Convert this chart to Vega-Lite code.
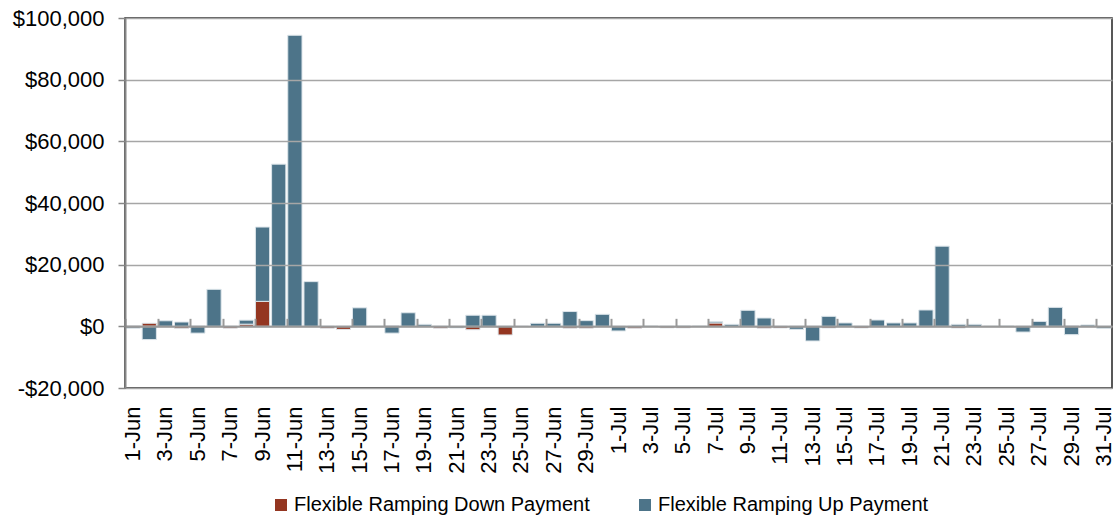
{
  "$schema": "https://vega.github.io/schema/vega-lite/v6.json",
  "autosize": {"type": "none"},
  "width": 987,
  "height": 370,
  "padding": {"left": 125, "top": 18, "right": 8, "bottom": 130},
  "background": "white",
  "view": {"stroke": "#222222", "strokeWidth": 1.5},
  "config": {"font": "Liberation Sans"},
  "data": {"values": [
    {"d": "1-Jun", "down": 200, "up": -600},
    {"d": "2-Jun", "down": 1000, "up": -4300},
    {"d": "3-Jun", "down": 0, "up": 1800},
    {"d": "4-Jun", "down": -650, "up": 1400},
    {"d": "5-Jun", "down": 100, "up": -2200},
    {"d": "6-Jun", "down": 0, "up": 12000},
    {"d": "7-Jun", "down": -600, "up": 0},
    {"d": "8-Jun", "down": 700, "up": 1300},
    {"d": "9-Jun", "down": 8100, "up": 24100},
    {"d": "10-Jun", "down": 0, "up": 52600},
    {"d": "11-Jun", "down": 0, "up": 94400},
    {"d": "12-Jun", "down": 0, "up": 14500},
    {"d": "13-Jun", "down": -600, "up": 0},
    {"d": "14-Jun", "down": -1000, "up": 0},
    {"d": "15-Jun", "down": 0, "up": 6000},
    {"d": "16-Jun", "down": 0, "up": 0},
    {"d": "17-Jun", "down": 150, "up": -2200},
    {"d": "18-Jun", "down": 0, "up": 4400},
    {"d": "19-Jun", "down": 0, "up": 650},
    {"d": "20-Jun", "down": -600, "up": 0},
    {"d": "21-Jun", "down": 0, "up": -500},
    {"d": "22-Jun", "down": -1100, "up": 3600},
    {"d": "23-Jun", "down": 0, "up": 3600},
    {"d": "24-Jun", "down": -2800, "up": 0},
    {"d": "25-Jun", "down": -100, "up": 0},
    {"d": "26-Jun", "down": 0, "up": 1000},
    {"d": "27-Jun", "down": 0, "up": 1000},
    {"d": "28-Jun", "down": -600, "up": 4800},
    {"d": "29-Jun", "down": -600, "up": 1850},
    {"d": "30-Jun", "down": 0, "up": 3900},
    {"d": "1-Jul", "down": 0, "up": -1500},
    {"d": "2-Jul", "down": -600, "up": 0},
    {"d": "3-Jul", "down": 0, "up": 100},
    {"d": "4-Jul", "down": -500, "up": 0},
    {"d": "5-Jul", "down": -500, "up": 150},
    {"d": "6-Jul", "down": 0, "up": 100},
    {"d": "7-Jul", "down": 1100, "up": 400},
    {"d": "8-Jul", "down": 0, "up": 650},
    {"d": "9-Jul", "down": 0, "up": 5200},
    {"d": "10-Jul", "down": -600, "up": 2700},
    {"d": "11-Jul", "down": -550, "up": 0},
    {"d": "12-Jul", "down": 0, "up": -970},
    {"d": "13-Jul", "down": 0, "up": -4750},
    {"d": "14-Jul", "down": -550, "up": 3240},
    {"d": "15-Jul", "down": 0, "up": 1100},
    {"d": "16-Jul", "down": -550, "up": 0},
    {"d": "17-Jul", "down": 0, "up": 2050},
    {"d": "18-Jul", "down": 0, "up": 1100},
    {"d": "19-Jul", "down": 0, "up": 1100},
    {"d": "20-Jul", "down": 0, "up": 5300},
    {"d": "21-Jul", "down": 0, "up": 26000},
    {"d": "22-Jul", "down": -550, "up": 650},
    {"d": "23-Jul", "down": 0, "up": 650},
    {"d": "24-Jul", "down": 0, "up": 0},
    {"d": "25-Jul", "down": 0, "up": 100},
    {"d": "26-Jul", "down": 0, "up": -1850},
    {"d": "27-Jul", "down": 0, "up": 1600},
    {"d": "28-Jul", "down": 0, "up": 6150},
    {"d": "29-Jul", "down": 150, "up": -2700},
    {"d": "30-Jul", "down": 0, "up": 450},
    {"d": "31-Jul", "down": 0, "up": -650}
  ]},
  "transform": [{"fold": ["down", "up"], "as": ["series", "value"]}],
  "layer": [
    {
      "mark": {"type": "bar", "stroke": "#dde5ea", "strokeWidth": 1},
      "encoding": {
        "x": {
          "field": "d", "type": "ordinal", "sort": null,
          "scale": {"paddingInner": 0.12, "paddingOuter": 0.06},
          "axis": {
            "title": null, "domain": false, "ticks": false, "tickSize": 0,
            "labelAngle": -90, "labelFontSize": 22, "labelColor": "#000000",
            "labelPadding": 18, "grid": false,
            "values": ["1-Jun","3-Jun","5-Jun","7-Jun","9-Jun","11-Jun","13-Jun","15-Jun","17-Jun","19-Jun","21-Jun","23-Jun","25-Jun","27-Jun","29-Jun","1-Jul","3-Jul","5-Jul","7-Jul","9-Jul","11-Jul","13-Jul","15-Jul","17-Jul","19-Jul","21-Jul","23-Jul","25-Jul","27-Jul","29-Jul","31-Jul"]
          }
        },
        "y": {
          "field": "value", "type": "quantitative", "stack": "zero",
          "scale": {"domain": [-20000, 100000], "nice": false, "zero": false},
          "axis": {
            "title": null,
            "values": [-20000, 0, 20000, 40000, 60000, 80000, 100000],
            "labelExpr": "datum.value < 0 ? '-$' + format(-datum.value, ',') : '$' + format(datum.value, ',')",
            "labelFontSize": 22, "labelColor": "#000000", "labelPadding": 14,
            "domainColor": "#868686", "domainWidth": 2,
            "tickColor": "#868686", "tickWidth": 1.5, "tickSize": 7,
            "grid": true, "gridColor": "#A6A6A6", "gridWidth": 1.5,
            "zindex": 1
          }
        },
        "color": {
          "field": "series", "type": "nominal",
          "scale": {"domain": ["down", "up"], "range": ["#943621", "#4D7489"]},
          "legend": {
            "title": null, "orient": "none", "direction": "horizontal",
            "legendX": 146, "legendY": 477,
            "symbolType": "square", "symbolSize": 144, "symbolStrokeWidth": 0,
            "labelFontSize": 20, "labelColor": "#000000", "labelOffset": 3,
            "columnPadding": 45,
            "labelExpr": "datum.label == 'down' ? 'Flexible Ramping Down Payment' : 'Flexible Ramping Up Payment'",
            "labelLimit": 400
          }
        },
        "order": {"field": "series", "sort": "ascending"}
      }
    },
    {
      "mark": {"type": "rule", "strokeOpacity": 0},
      "encoding": {
        "x": {
          "field": "d", "type": "ordinal", "sort": null,
          "axis": {
            "title": null, "labels": false, "grid": false,
            "offset": -308.33, "zindex": 1,
            "domain": true, "domainColor": "#999999", "domainWidth": 2,
            "ticks": true, "tickColor": "#999999", "tickWidth": 2, "tickSize": 8,
            "bandPosition": 0,
            "values": ["1-Jun","3-Jun","5-Jun","7-Jun","9-Jun","11-Jun","13-Jun","15-Jun","17-Jun","19-Jun","21-Jun","23-Jun","25-Jun","27-Jun","29-Jun","1-Jul","3-Jul","5-Jul","7-Jul","9-Jul","11-Jul","13-Jul","15-Jul","17-Jul","19-Jul","21-Jul","23-Jul","25-Jul","27-Jul","29-Jul","31-Jul"]
          }
        }
      }
    }
  ],
  "resolve": {"axis": {"x": "independent"}}
}
